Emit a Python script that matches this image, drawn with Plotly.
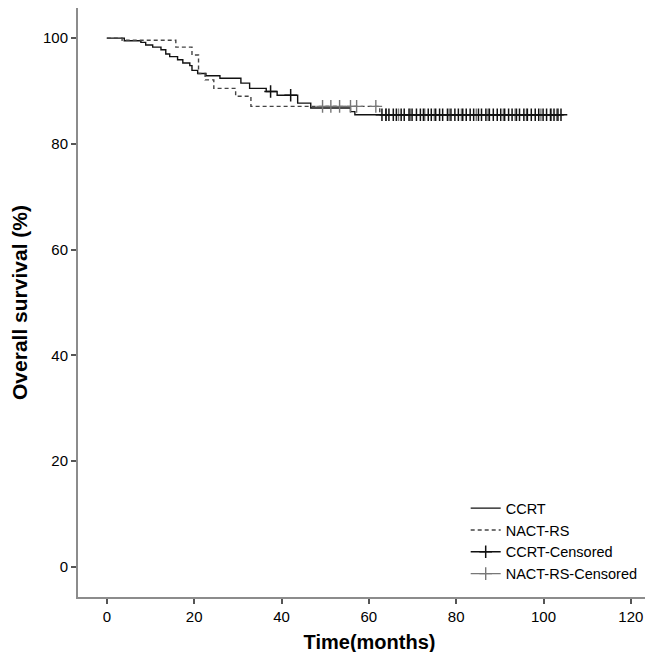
import plotly.graph_objects as go

# Kaplan-Meier steps (months, survival %)
ccrt_time = [0, 4, 7.8, 8.9, 10.5, 12.4, 13.5, 14.4, 16.2, 17.4, 19.0, 19.5, 20.8, 22.7,
             25.9, 30.7, 32.7, 36.5, 39.0, 43.7, 46.7, 55.8, 56.8, 104.0]
ccrt_surv = [100, 99.5, 99.2, 98.7, 98.3, 97.8, 97.0, 96.5, 95.9, 95.3, 94.8, 93.9, 93.3, 92.9,
             92.4, 91.5, 90.5, 89.9, 89.2, 87.7, 86.8, 86.1, 85.5, 85.5]

nact_time = [0, 3.5, 15.8, 19.5, 21.0, 22.5, 24.5, 29.5, 33.0, 62.5, 103.0]
nact_surv = [100, 99.6, 98.3, 96.8, 93.3, 92.1, 90.5, 89.0, 87.1, 85.5, 85.5]

# censoring times (months)
ccrt_cens = [37.5, 42.1, 63.0, 63.9, 64.6, 65.6, 66.3, 67.4, 68.1, 69.2, 69.9, 70.9, 71.8,
             72.5, 73.6, 74.3, 75.3, 76.2, 76.9, 78.0, 78.8, 79.7, 80.5, 81.5, 82.3, 83.2,
             84.0, 85.1, 85.8, 86.8, 87.6, 88.5, 89.4, 90.2, 91.1, 92.0, 92.8, 93.8, 94.5,
             95.5, 96.3, 97.2, 98.1, 98.9, 99.9, 100.7, 101.6, 102.4, 103.3, 104.0]
nact_cens = [49.4, 51.3, 53.3, 55.8, 57.2, 61.6, 64.0, 66.8, 69.5, 72.8, 75.0, 78.4, 81.2,
             84.6, 87.3, 90.8, 93.5, 96.1, 99.4, 101.8, 103.0]


def surv_at(t, times, surv):
    s = surv[0]
    for ti, si in zip(times, surv):
        if ti <= t:
            s = si
    return s


def cens_xy(cens, times, surv):
    # None between points so the legend keeps its line but no line is drawn
    xs, ys = [], []
    for t in cens:
        xs += [t, None]
        ys += [surv_at(t, times, surv), None]
    return xs, ys


fig = go.Figure()
fig.add_trace(go.Scatter(x=ccrt_time, y=ccrt_surv, mode="lines", name="CCRT",
                         line=dict(color="#111111", width=1.4, shape="hv")))
fig.add_trace(go.Scatter(x=nact_time, y=nact_surv, mode="lines", name="NACT-RS",
                         line=dict(color="#444444", width=1.4, shape="hv", dash="4px,3px")))
cx, cy = cens_xy(ccrt_cens, ccrt_time, ccrt_surv)
nx, ny = cens_xy(nact_cens, nact_time, nact_surv)
fig.add_trace(go.Scatter(x=nx, y=ny, mode="lines+markers", name="NACT-RS-Censored",
                         line=dict(color="#777777", width=1.4),
                         marker=dict(symbol="cross-thin", size=9,
                                     line=dict(color="#777777", width=1.4))))
fig.add_trace(go.Scatter(x=cx, y=cy, mode="lines+markers", name="CCRT-Censored",
                         line=dict(color="#111111", width=1.4),
                         marker=dict(symbol="cross-thin", size=9,
                                     line=dict(color="#111111", width=1.5))))

axis_style = dict(showgrid=False, zeroline=False, showline=True, linecolor="#8c8c8c",
                  linewidth=2, ticks="outside", ticklen=5, tickwidth=2, tickcolor="#555555",
                  tickfont=dict(family="Liberation Sans", size=15, color="#000000"))

fig.update_xaxes(range=[-6.6, 126.9], tickvals=[0, 20, 40, 60, 80, 100, 120],
                 title=dict(text="<b>Time(months)</b>", standoff=11,
                            font=dict(family="Liberation Sans", size=20, color="#000000")),
                 automargin=False, **axis_style)
fig.update_yaxes(range=[-5.7, 105.7], tickvals=[0, 20, 40, 60, 80, 100],
                 title=dict(text="<b>Overall survival (%)</b>", standoff=10,
                            font=dict(family="Liberation Sans", size=21, color="#000000")),
                 automargin=False, **axis_style)

fig.update_layout(
    width=653, height=652,
    margin=dict(l=70, r=0, t=0, b=63),
    plot_bgcolor="white", paper_bgcolor="white",
    legend=dict(x=0.665, y=0.178, xanchor="left", yanchor="top",
                traceorder="normal", bgcolor="rgba(0,0,0,0)",
                font=dict(family="Liberation Sans", size=14.5, color="#000000"),
                tracegroupgap=0, itemwidth=30),
)
# legend order: CCRT, NACT-RS, CCRT-Censored, NACT-RS-Censored
fig.data[2].legendrank = 1004
fig.data[3].legendrank = 1003

fig.write_html("out.html")
